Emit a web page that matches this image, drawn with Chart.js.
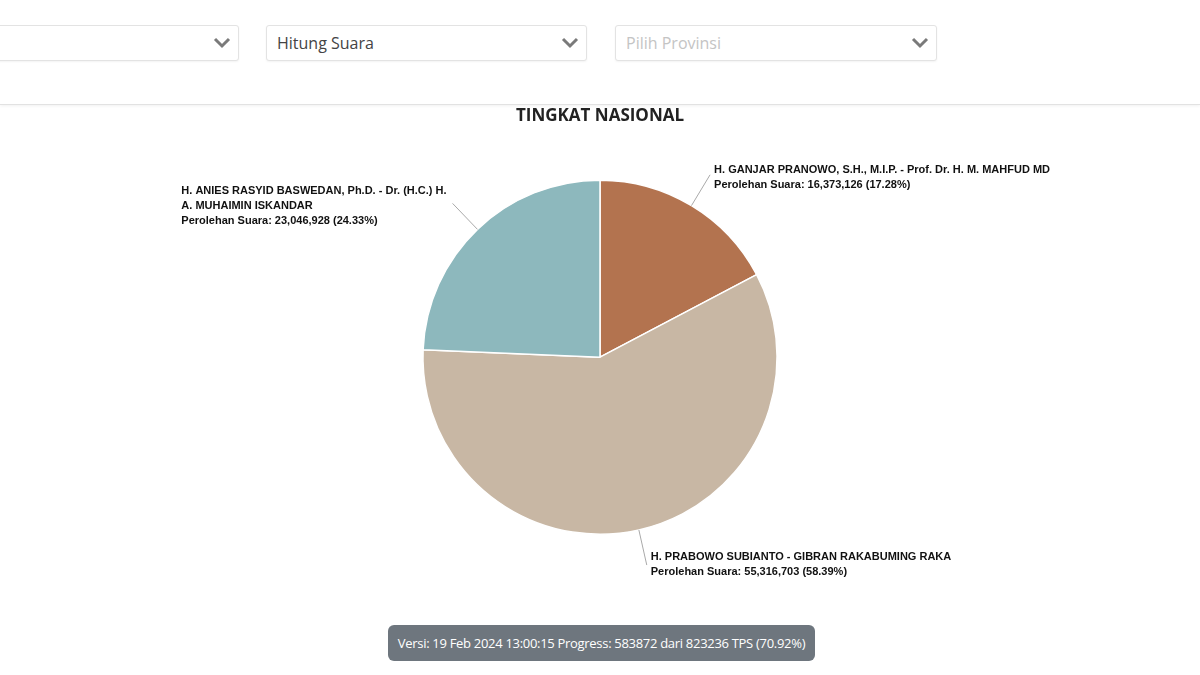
<!DOCTYPE html>
<html>
<head>
<meta charset="utf-8">
<script src="https://cdn.jsdelivr.net/npm/chart.js@4"></script>
<style>
    html, body { margin: 0; padding: 0; background: #fff; width: 1200px; height: 675px; overflow: hidden; }
    body { position: relative; font-family: "Open Sans", sans-serif; }
    .topbar { position: absolute; left: 0; top: 0; width: 1200px; height: 104px; background: #fff;
              border-bottom: 1px solid #e2e2e2; box-shadow: 0 1px 3px rgba(0,0,0,0.06); }
    .sel { position: absolute; top: 25px; height: 34px; border: 1px solid #e3e3e3; border-radius: 3px;
           background: #fff; box-shadow: 0 1px 2px rgba(0,0,0,0.05); box-sizing: content-box; }
    .sel span { position: absolute; left: 10px; top: 6px; font-size: 16px; color: #444; }
    .sel span.ph { color: #c4c4c4; }
    .sel svg { position: absolute; right: 7px; top: 11px; }
    #chartWrap { position: absolute; left: 0; top: 105px; width: 1200px; height: 510px; }
    .badge { position: absolute; left: 388px; top: 625px; width: 427px; height: 36px; border-radius: 6px;
             background: #6e767e; color: #fff; font-size: 13px; line-height: 36px; text-align: center;
             white-space: nowrap; font-family: "Open Sans", sans-serif; letter-spacing: -0.3px; }
</style>
</head>
<body>
<div class="topbar">
    <div class="sel" style="left:-60px; width:297px;">
        <svg width="18" height="12" viewBox="0 0 18 12"><polyline points="2,2 9,9 16,2" fill="none" stroke="#7a7a7a" stroke-width="3"/></svg>
    </div>
    <div class="sel" style="left:266px; width:319px;">
        <span>Hitung Suara</span>
        <svg width="18" height="12" viewBox="0 0 18 12"><polyline points="2,2 9,9 16,2" fill="none" stroke="#7a7a7a" stroke-width="3"/></svg>
    </div>
    <div class="sel" style="left:615px; width:320px;">
        <span class="ph">Pilih Provinsi</span>
        <svg width="18" height="12" viewBox="0 0 18 12"><polyline points="2,2 9,9 16,2" fill="none" stroke="#7a7a7a" stroke-width="3"/></svg>
    </div>
</div>
<div id="chartWrap"><canvas id="pieChart"></canvas></div>
<div class="badge">Versi: 19 Feb 2024 13:00:15 Progress: 583872 dari 823236 TPS (70.92%)</div>

<script>
// --- Data ---
const candidateNames = [
    ['H. GANJAR PRANOWO, S.H., M.I.P. - Prof. Dr. H. M. MAHFUD MD'],
    ['H. PRABOWO SUBIANTO - GIBRAN RAKABUMING RAKA'],
    ['H. ANIES RASYID BASWEDAN, Ph.D. - Dr. (H.C.) H.', 'A. MUHAIMIN ISKANDAR']
];
const voteCounts = [16373126, 55316703, 23046928];
const sliceColors = ['#b3734f', '#c8b7a4', '#8db8bd'];

// --- Labels with leader lines ---
const calloutPlugin = {
    id: 'callouts',
    afterDraw(chart) {
        const ctx = chart.ctx;
        const meta = chart.getDatasetMeta(0);
        const total = voteCounts.reduce((a, b) => a + b, 0);
        ctx.save();
        ctx.font = 'bold 11px "Liberation Sans", Arial, sans-serif';
        ctx.textBaseline = 'middle';
        ctx.fillStyle = '#111';
        meta.data.forEach((arc, i) => {
            const p = arc.getProps(['x', 'y', 'startAngle', 'endAngle', 'outerRadius']);
            const mid = (p.startAngle + p.endAngle) / 2;
            const cos = Math.cos(mid), sin = Math.sin(mid);
            const x0 = p.x + cos * p.outerRadius, y0 = p.y + sin * p.outerRadius;
            const x1 = p.x + cos * (p.outerRadius + 36), y1 = p.y + sin * (p.outerRadius + 36);
            ctx.strokeStyle = '#a9a9a9';
            ctx.lineWidth = 1;
            ctx.beginPath();
            ctx.moveTo(x0, y0);
            ctx.lineTo(x1, y1);
            ctx.stroke();

            const pct = (voteCounts[i] / total * 100).toFixed(2);
            const lines = candidateNames[i].concat(
                ['Perolehan Suara: ' + voteCounts[i].toLocaleString('en-US') + ' (' + pct + '%)']);
            const lh = 15;
            const maxW = Math.max(...lines.map(l => ctx.measureText(l).width));
            const left = cos < 0 ? x1 - 6 - maxW : x1 + 4;
            // lower labels sit a little higher than the upper ones
            const nudge = sin > 0 ? -1 : 3;
            const top = y1 - (lines.length - 1) * lh / 2 + nudge;
            ctx.textAlign = 'left';
            lines.forEach((l, k) => ctx.fillText(l, left, top + k * lh));
        });
        ctx.restore();
    }
};

let pieChart;
function initChart() {
    const ctx = document.getElementById('pieChart').getContext('2d');
    pieChart = new Chart(ctx, {
        type: 'pie',
        data: {
            labels: candidateNames.map(n => n.join(' ')),
            datasets: [{
                data: voteCounts,
                backgroundColor: sliceColors,
                borderColor: '#ffffff',
                borderWidth: 1.5
            }]
        },
        options: {
            responsive: true,
            maintainAspectRatio: false,
            animation: false,
            layout: { padding: { top: 0, bottom: 80, left: 0, right: 0 } },
            plugins: {
                legend: { display: false },
                tooltip: { enabled: false },
                title: {
                    display: true,
                    text: 'TINGKAT NASIONAL',
                    color: '#222',
                    font: { family: '"Open Sans", sans-serif', size: 17, weight: 'bold' },
                    padding: { top: 1, bottom: 53 }
                }
            }
        },
        plugins: [calloutPlugin]
    });
}

document.addEventListener('DOMContentLoaded', initChart);
</script>
</body>
</html>
